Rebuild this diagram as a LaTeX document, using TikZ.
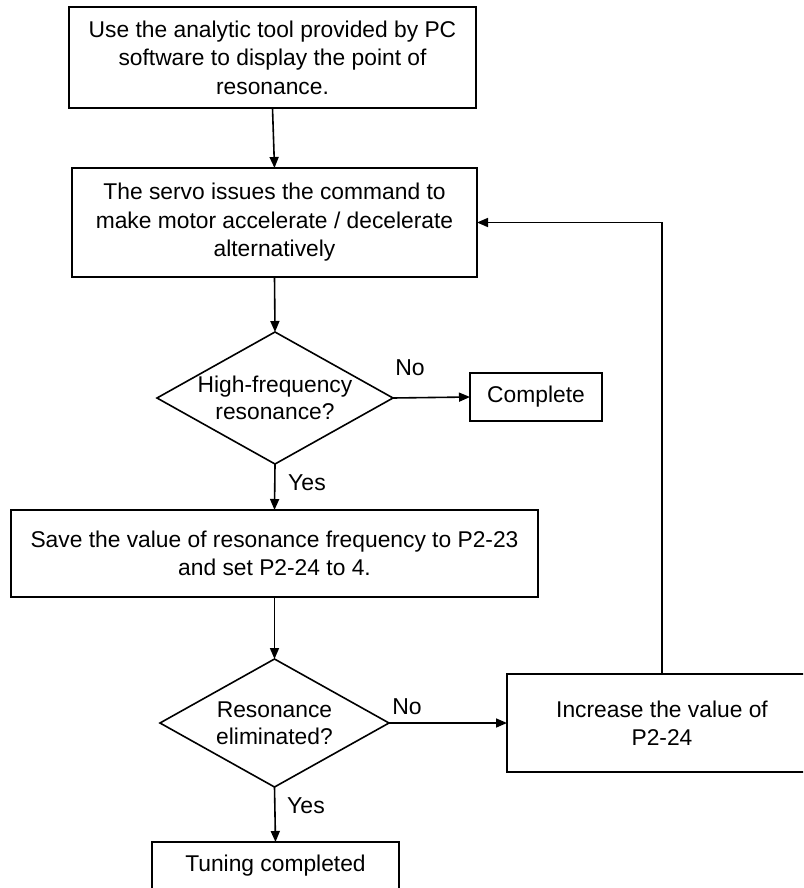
\documentclass[tikz,border=0pt]{standalone}
\usepackage{fontspec}
\setmainfont{Liberation Sans}
\usetikzlibrary{shapes.geometric,arrows.meta}
\begin{document}
\begin{tikzpicture}[x=1pt,y=-1pt,
  every node/.style={font=\fontsize{22.8}{28.5}\selectfont, inner sep=0pt, outer sep=0pt},
  proc/.style={draw, line width=1.6pt, rectangle, align=center},
  dec/.style={draw, line width=1.6pt, diamond, inner sep=0pt},
  dectext/.style={align=center, font=\fontsize{22.8}{27}\selectfont},
  lbl/.style={font=\fontsize{23}{28}\selectfont},
  conn/.style={line width=1.6pt, -{Triangle[length=11pt,width=9pt]}}]
\useasboundingbox (0,0) rectangle (803,888);
\clip (0,0) rectangle (803,888);
\node[proc, minimum width=407pt, minimum height=101pt] (b1) at (272.5,57.5)
  {Use the analytic tool provided by PC\\software to display the point of\\resonance.};
\node[proc, minimum width=405pt, minimum height=109pt] (b2) at (274.5,222.5)
  {The servo issues the command to\\make motor accelerate / decelerate\\alternatively};
\node[dec, minimum width=236pt, minimum height=132pt] (d1) at (275,398) {};
\node[dectext] (d1t) at (d1.center) {High-frequency\\resonance?};
\node[proc, minimum width=132pt, minimum height=48pt] (c1) at (536,397) {Complete};
\node[proc, minimum width=527pt, minimum height=87pt] (b3) at (274.5,553.5)
  {Save the value of resonance frequency to P2-23\\and set P2-24 to 4.};
\node[dec, minimum width=229pt, minimum height=128pt] (d2) at (274.5,723) {};
\node[dectext] (d2t) at (d2.center) {Resonance\\eliminated?};
\node[proc, minimum width=310pt, minimum height=98pt] (inc) at (662,723)
  {Increase the value of\\P2-24};
\node[proc, minimum width=247pt, minimum height=48pt] (tc) at (275.5,866)
  {Tuning completed};
\node[lbl] (no1) at (410,368) {No};
\node[lbl] (yes1) at (307,483) {Yes};
\node[lbl] (no2) at (407,707) {No};
\node[lbl] (yes2) at (306,806) {Yes};
\draw[conn] (b1.south) -- (b2.north);
\draw[conn] (b2.south) -- (d1.north);
\draw[conn] (d1.east) -- (c1.west);
\draw[conn] (d1.south) -- (b3.north);
\draw[conn] (b3.south) -- (d2.north);
\draw[conn] (d2.east) -- (inc.west);
\draw[conn] (d2.south) -- (tc.north);
\draw[conn] (inc.north) |- (b2.east);
\end{tikzpicture}
\end{document}
